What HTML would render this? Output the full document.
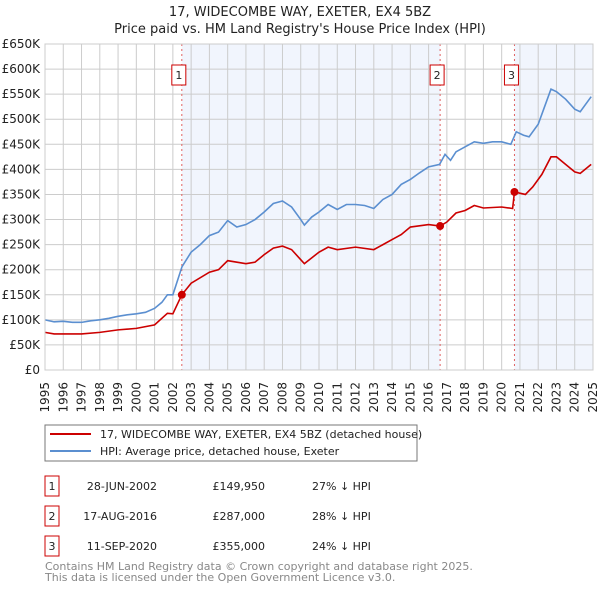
<!DOCTYPE html>
<html><head><meta charset="utf-8"><style>
body{margin:0;background:#fff;font-family:"DejaVu Sans","Liberation Sans",sans-serif;}
svg{display:block}
</style></head><body>
<svg id="c" width="600" height="590" xmlns="http://www.w3.org/2000/svg" font-family="DejaVu Sans, Liberation Sans, sans-serif">
<text x="300" y="16" text-anchor="middle" font-size="13" fill="#222">17, WIDECOMBE WAY, EXETER, EX4 5BZ</text>
<text x="300" y="33" text-anchor="middle" font-size="13" fill="#222">Price paid vs. HM Land Registry's House Price Index (HPI)</text>
<g id="plot"></g>
<rect x="45" y="425" width="372" height="36" fill="#fff" stroke="#777"/>
<line x1="50" y1="434" x2="91" y2="434" stroke="#cc0000" stroke-width="2"/>
<text x="100" y="438" font-size="11" fill="#222">17, WIDECOMBE WAY, EXETER, EX4 5BZ (detached house)</text>
<line x1="50" y1="451" x2="91" y2="451" stroke="#5b8fd0" stroke-width="2"/>
<text x="100" y="455" font-size="11" fill="#222">HPI: Average price, detached house, Exeter</text>
<g id="tbl" font-size="11" fill="#222"></g>
<text x="45" y="570" font-size="11" fill="#888">Contains HM Land Registry data © Crown copyright and database right 2025.</text>
<text x="45" y="581" font-size="11" fill="#888">This data is licensed under the Open Government Licence v3.0.</text>
</svg>
<script>
const hpiYears=[1995,1995.5,1996,1996.5,1997,1997.5,1998,1998.5,1999,1999.5,2000,2000.5,2001,2001.4,2001.7,2002,2002.5,2003,2003.5,2004,2004.5,2005,2005.5,2006,2006.5,2007,2007.5,2008,2008.5,2009,2009.2,2009.6,2010,2010.5,2011,2011.5,2012,2012.5,2013,2013.5,2014,2014.5,2015,2015.5,2016,2016.6,2016.9,2017.2,2017.5,2018,2018.5,2019,2019.5,2020,2020.5,2020.8,2021.2,2021.5,2022,2022.3,2022.7,2023,2023.5,2024,2024.3,2024.9];
const hpiValues=[100,96,97,95,95,98,100,103,107,110,112,115,123,135,150,150,206,235,250,268,275,298,285,290,300,315,332,337,325,300,289,305,315,330,320,330,330,328,322,340,350,370,380,393,405,410,430,418,435,445,455,452,455,455,450,475,468,465,490,520,560,555,540,520,515,545];
const redYears=[1995,1995.5,1996,1997,1998,1999,2000,2001,2001.7,2002,2002.49,2003,2004,2004.5,2005,2006,2006.5,2007,2007.5,2008,2008.5,2009,2009.2,2010,2010.5,2011,2012,2013,2013.5,2014,2014.5,2015,2016,2016.63,2017,2017.5,2018,2018.5,2019,2020,2020.6,2020.7,2021.3,2021.7,2022.2,2022.7,2023,2023.5,2024,2024.3,2024.9];
const redValues=[75,72,72,72,75,80,83,90,113,112,150,173,195,200,218,212,215,230,243,247,240,220,212,235,245,240,245,240,250,260,270,285,290,287,295,313,318,328,323,325,322,355,350,365,390,425,425,410,395,392,410];
const saleYears=[2002.49,2016.63,2020.7];
const saleValues=[149.95,287,355];
const saleLabels=["1","2","3"];
const saleDates=["28-JUN-2002","17-AUG-2016","11-SEP-2020"];
const salePrices=["£149,950","£287,000","£355,000"];
const saleDiffs=["27% ↓ HPI","28% ↓ HPI","24% ↓ HPI"];
const yTicks=[0,50,100,150,200,250,300,350,400,450,500,550,600,650];
const xTicks=[1995,1996,1997,1998,1999,2000,2001,2002,2003,2004,2005,2006,2007,2008,2009,2010,2011,2012,2013,2014,2015,2016,2017,2018,2019,2020,2021,2022,2023,2024,2025];

const NS="http://www.w3.org/2000/svg";
const X0=45,X1=593,Y0=370,Y1=44;
const xs=v=>X0+(v-1995)/30*(X1-X0);
const ys=v=>Y0-v/650*(Y0-Y1);
const plot=document.getElementById('plot');
function mk(tag,attrs,parent){const e=document.createElementNS(NS,tag);for(const k in attrs)e.setAttribute(k,attrs[k]);(parent||plot).appendChild(e);return e;}
let r=mk('rect',{x:xs(saleYears[0]),y:Y1,width:xs(saleYears[1])-xs(saleYears[0]),height:Y0-Y1,fill:'#eef3fc',opacity:0.8});


r=mk('rect',{x:xs(saleYears[2]),y:Y1,width:X1-xs(saleYears[2]),height:Y0-Y1,fill:'#eef3fc',opacity:0.8});


yTicks.forEach(t=>{
  const l=mk('line',{x1:X0,x2:X1,y1:ys(t),y2:ys(t),stroke:'#cccccc'});
  
  
  const tx=mk('text',{x:X0-5,y:ys(t)+4,'text-anchor':'end','font-size':12,fill:'#222'});
  tx.textContent=t===0?'£0':'£'+t+'K';
  
  
});
xTicks.forEach(t=>{
  const l=mk('line',{x1:xs(t),x2:xs(t),y1:Y1,y2:Y0,stroke:'#cccccc'});
  
  
  const x=xs(t)+4,y=382;
  const tx=mk('text',{x:x,y:y,'text-anchor':'end','font-size':12,fill:'#222',transform:'rotate(-90 '+x+' '+y+')'});
  tx.textContent=t;
  
  
});
saleYears.forEach((s,i)=>{
  const l=mk('line',{x1:xs(s),x2:xs(s),y1:Y1,y2:Y0,stroke:'#e06060','stroke-dasharray':'2,3'});
  
  
  const b=mk('rect',{x:xs(s)-10,y:65,width:14,height:20,fill:'#fff',stroke:'#cc0000'});
  
  
  const t=mk('text',{x:xs(s)-3,y:79,'text-anchor':'middle','font-size':11,fill:'#222'});
  t.textContent=saleLabels[i];
  
  
});
const hp=mk('polyline',{points:hpiYears.map((y,i)=>xs(y)+','+ys(hpiValues[i])).join(' '),fill:'none',stroke:'#5b8fd0','stroke-width':1.6});


const rp=mk('polyline',{points:redYears.map((y,i)=>xs(y)+','+ys(redValues[i])).join(' '),fill:'none',stroke:'#cc0000','stroke-width':1.6});


saleYears.forEach((s,i)=>{
  const c=mk('circle',{cx:xs(s),cy:ys(saleValues[i]),r:4,fill:'#cc0000'});
  
  
});
const bd=mk('rect',{x:X0,y:Y1,width:X1-X0,height:Y0-Y1,fill:'none',stroke:'#cccccc'});


const tbl=document.getElementById('tbl');
saleLabels.forEach((lab,i)=>{
  const y=486+i*30;
  const b=mk('rect',{x:45,y:y-10,width:14,height:20,fill:'#fff',stroke:'#cc0000'},tbl);
  
  
  const cells=[[52,lab,'middle'],[157,saleDates[i],'end'],[265,salePrices[i],'end'],[312,saleDiffs[i],'start']];
  cells.forEach(([x,txt,a],j)=>{
    const t=mk('text',{x:x,y:y+4,'text-anchor':a},tbl);
    t.textContent=txt;
    
    
  });
});
</script>
</body></html>
